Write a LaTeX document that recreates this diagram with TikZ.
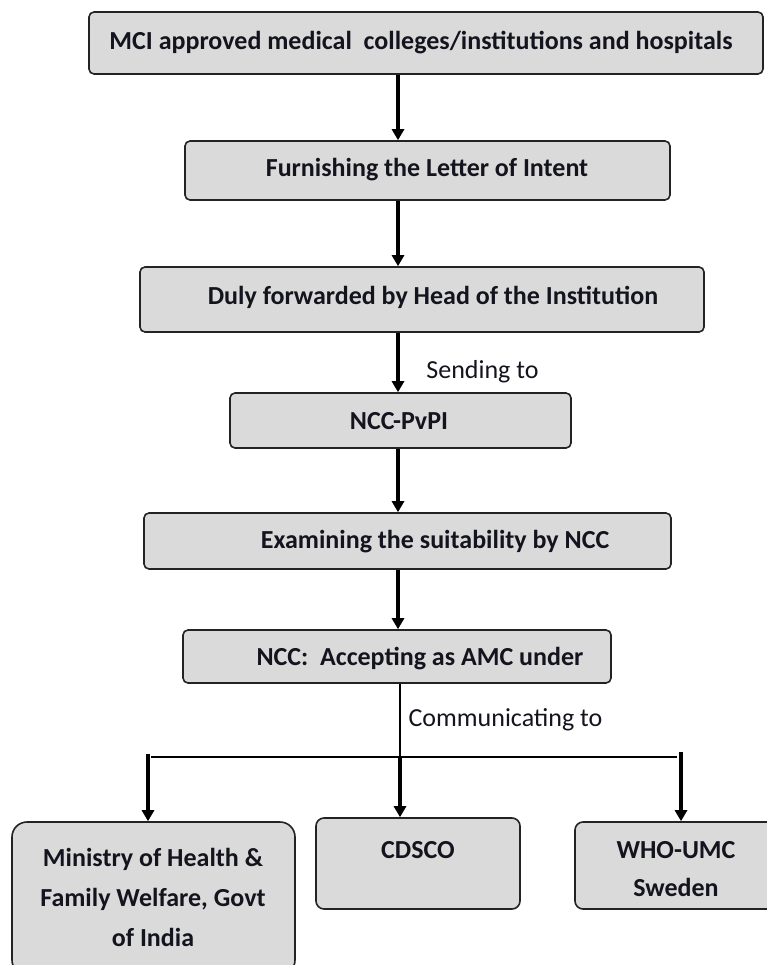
\documentclass[tikz,border=0pt]{standalone}
\usepackage{fontspec}
\setmainfont{Carlito}
\usetikzlibrary{arrows.meta}
\definecolor{boxgray}{RGB}{218,218,218}
\definecolor{edgegray}{RGB}{35,35,35}
\definecolor{inkblack}{RGB}{20,20,30}
\begin{document}
\begin{tikzpicture}[x=1pt,y=-1pt,
  box/.style={draw=edgegray, fill=boxgray, line width=1.6pt, rounded corners=5pt, inner sep=0pt},
  txt/.style={font=\fontsize{26}{40}\selectfont\bfseries, text=inkblack, inner sep=0pt, align=center},
  lbl/.style={font=\fontsize{26}{30}\selectfont, text=inkblack, inner sep=0pt},
  arr/.style={line width=3.6pt, draw=black, -{Triangle[width=12pt,length=11pt]}},
  thinline/.style={line width=1.6pt, draw=black}]
\clip (0,0) rectangle (767,965);
\useasboundingbox (0,0) rectangle (767,965);
% boxes
\node[box, minimum width=674pt, minimum height=62pt] (b1) at (426,43) {};
\node[box, minimum width=485pt, minimum height=59pt] (b2) at (427.5,170.5) {};
\node[box, minimum width=564pt, minimum height=65pt] (b3) at (422,299.5) {};
\node[box, minimum width=341pt, minimum height=55pt] (b4) at (400.5,420.5) {};
\node[box, minimum width=527pt, minimum height=56pt] (b5) at (407.5,541) {};
\node[box, minimum width=428pt, minimum height=53pt] (b6) at (397,656.5) {};
\node[box, rounded corners=15pt, minimum width=283pt, minimum height=153pt] (b7) at (153.5,898.5) {};
\node[box, rounded corners=8pt, minimum width=204pt, minimum height=91pt] (b8) at (418,863.5) {};
\node[box, rounded corners=8pt, minimum width=202pt, minimum height=87pt] (b9) at (676,865.5) {};
% texts
\node[txt] (t1) at (421,43) {MCI approved medical\ \ colleges/institutions and hospitals};
\node[txt] (t2) at (427,170) {Furnishing the Letter of Intent};
\node[txt] (t3) at (433,297) {Duly forwarded by Head of the Institution};
\node[txt] (t4) at (399,421) {NCC-PvPI};
\node[txt] (t5) at (435,542) {Examining the suitability by NCC};
\node[txt] (t6) at (420,659) {NCC:\ \ Accepting as AMC under};
\node[txt] (t7) at (153,897) {Ministry of Health \&\\Family Welfare, Govt\\of India};
\node[txt] (t8) at (418,850) {CDSCO};
\node[txt, font=\fontsize{26}{38}\selectfont\bfseries] (t9) at (676,869) {WHO-UMC\\Sweden};
% labels
\node[lbl] (l1) at (482.5,372) {Sending to};
\node[lbl] (l2) at (505.5,720) {Communicating to};
% connectors
\coordinate (col) at (398,0);
\draw[arr] (b1.south -| col) -- (b2.north -| col);
\draw[arr] (b2.south -| col) -- (b3.north -| col);
\draw[arr] (b3.south -| col) -- (b4.north -| col);
\draw[arr] (b4.south -| col) -- (b5.north -| col);
\draw[arr] (b5.south -| col) -- (b6.north -| col);
\coordinate (j) at (400,757);
\coordinate (hl) at (151,757);
\coordinate (hr) at (677,757);
\coordinate (a7) at (148,754);
\coordinate (a9) at (681,752);
\draw[thinline] (b6.south -| j) -- (j);
\draw[thinline] (hl) -- (hr);
\draw[arr] (a7) -- (b7.north -| a7);
\draw[arr] (j) -- (b8.north -| j);
\draw[arr] (a9) -- (b9.north -| a9);
\end{tikzpicture}
\end{document}
